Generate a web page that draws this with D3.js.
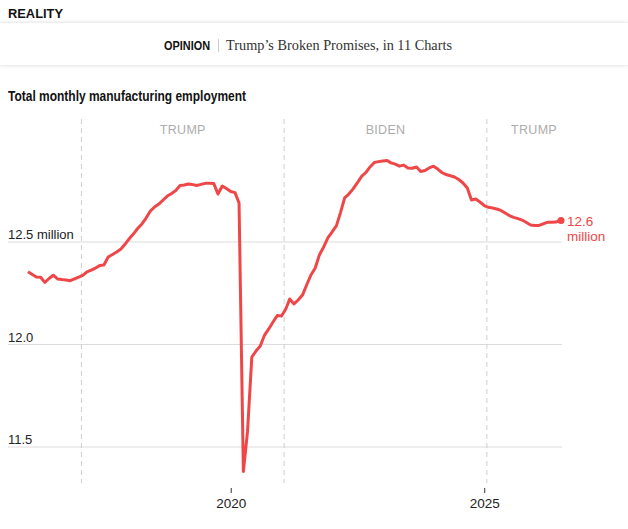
<!DOCTYPE html>
<html>
<head>
<meta charset="utf-8">
<script src="https://cdn.jsdelivr.net/npm/d3@7"></script>
<style>
  body { margin: 0; background: #fff; width: 628px; height: 529px; overflow: hidden; position: relative; }
  #band { position: absolute; left: 0; top: 23px; width: 628px; height: 42px; background: #fff;
          box-shadow: 0 0 4px rgba(0,0,0,0.18); }
  svg { position: absolute; left: 0; top: 0; }
</style>
</head>
<body>
<div id="band"></div>
<svg id="chart" width="628" height="529"></svg>
<script>
// monthly manufacturing employment, millions, Jan 2016 onward
var y2016 = [12.355, 12.341, 12.329, 12.328, 12.303, 12.322, 12.338, 12.320, 12.317, 12.315, 12.311, 12.320];
var y2017 = [12.329, 12.338, 12.354, 12.363, 12.373, 12.385, 12.388, 12.427, 12.439, 12.451, 12.466, 12.490];
var y2018 = [12.517, 12.541, 12.566, 12.588, 12.617, 12.651, 12.671, 12.685, 12.705, 12.724, 12.737, 12.751];
var y2019 = [12.776, 12.778, 12.783, 12.780, 12.776, 12.781, 12.786, 12.786, 12.785, 12.734, 12.773, 12.761];
var y2020 = [12.746, 12.741, 12.690, 11.380, 11.575, 11.939, 11.968, 11.993, 12.046, 12.076, 12.110, 12.141];
var y2021 = [12.139, 12.173, 12.222, 12.198, 12.217, 12.241, 12.290, 12.339, 12.373, 12.437, 12.476, 12.520];
var y2022 = [12.549, 12.580, 12.641, 12.715, 12.734, 12.759, 12.788, 12.820, 12.839, 12.866, 12.888, 12.892];
var y2023 = [12.895, 12.898, 12.886, 12.880, 12.870, 12.875, 12.861, 12.860, 12.866, 12.844, 12.849, 12.861];
var y2024 = [12.870, 12.856, 12.839, 12.829, 12.823, 12.817, 12.805, 12.788, 12.763, 12.705, 12.710, 12.695];
var y2025 = [12.678, 12.669, 12.666, 12.661, 12.654, 12.641, 12.629, 12.620, 12.614, 12.607, 12.595, 12.583];
var y2026 = [12.580, 12.581, 12.588, 12.596, 12.596, 12.597, 12.605];

var yearRows = [y2016, y2017, y2018, y2019, y2020, y2021, y2022, y2023, y2024, y2025, y2026];
var firstYear = 2016;

var yTicks = [12.5, 12.0, 11.5];
var yTickLabels = ["12.5 million", "12.0", "11.5"];
var xTicks = [2020, 2025];
var termStarts = ["2017-01-20", "2021-01-20", "2025-01-20"];
var termLabels = ["TRUMP", "BIDEN", "TRUMP"];
var endLabel = ["12.6", "million"];

var red = "#ef4748";
var sans = "Liberation Sans, Arial, sans-serif";

var data = [];
yearRows.forEach(function(row, yi) {
  row.forEach(function(v, m) {
    data.push({date: new Date(firstYear + yi, m, 1), value: v});
  });
});

var svg = d3.select("#chart");

// header texts
svg.append("text")
  .attr("x", 8).attr("y", 18)
  .attr("font-family", sans).attr("font-size", 13.5).attr("font-weight", "bold")
  .attr("fill", "#121212")
  .attr("textLength", 55).attr("lengthAdjust", "spacingAndGlyphs")
  .text("REALITY");
svg.append("text")
  .attr("x", 164).attr("y", 50)
  .attr("font-family", sans).attr("font-size", 13.5).attr("font-weight", "bold")
  .attr("fill", "#121212")
  .attr("textLength", 46).attr("lengthAdjust", "spacingAndGlyphs")
  .text("OPINION");
svg.append("line")
  .attr("x1", 218.5).attr("x2", 218.5).attr("y1", 39).attr("y2", 52)
  .attr("stroke", "#ccc");
svg.append("text")
  .attr("x", 226).attr("y", 50)
  .attr("font-family", "Liberation Serif, DejaVu Serif, serif").attr("font-size", 15)
  .attr("fill", "#333")
  .attr("textLength", 226).attr("lengthAdjust", "spacingAndGlyphs")
  .text("Trump’s Broken Promises, in 11 Charts");

// chart title
svg.append("text")
  .attr("x", 8).attr("y", 101)
  .attr("font-family", sans).attr("font-size", 14).attr("font-weight", "bold")
  .attr("fill", "#121212")
  .attr("textLength", 238).attr("lengthAdjust", "spacingAndGlyphs")
  .text("Total monthly manufacturing employment");

var x = d3.scaleTime()
  .domain([new Date(2016, 0, 1), new Date(2026, 6, 1)])
  .range([28, 560]);
var y = d3.scaleLinear()
  .domain([11.5, 12.5])
  .range([447, 242]);

var terms = termStarts.map(function(d) { return d3.timeParse("%Y-%m-%d")(d); });

// gridlines
svg.selectAll("line.grid").data(yTicks).enter().append("line")
  .attr("class", "grid")
  .attr("x1", 8).attr("x2", 562)
  .attr("y1", function(d) { return y(d); })
  .attr("y2", function(d) { return y(d); })
  .attr("stroke", "#dcdcdc").attr("stroke-width", 1);

svg.selectAll("text.ylab").data(yTicks).enter().append("text")
  .attr("class", "ylab")
  .attr("x", 8)
  .attr("y", function(d) { return y(d) - 3; })
  .attr("font-family", sans)
  .attr("font-size", 13)
  .attr("fill", "#222")
  .text(function(d, i) { return yTickLabels[i]; });

// term dividers
svg.selectAll("line.term").data(terms).enter().append("line")
  .attr("class", "term")
  .attr("x1", function(d) { return x(d); })
  .attr("x2", function(d) { return x(d); })
  .attr("y1", 119).attr("y2", 483)
  .attr("stroke", "#cfcfcf")
  .attr("stroke-dasharray", "5,4");

var termEnds = terms.slice(1).concat([new Date(2026, 11, 1)]);
svg.selectAll("text.term").data(terms).enter().append("text")
  .attr("class", "term")
  .attr("x", function(d, i) { return (x(d) + Math.min(x(termEnds[i]), 600)) / 2; })
  .attr("y", 134)
  .attr("text-anchor", "middle")
  .attr("font-family", sans)
  .attr("font-size", 12.5)
  .attr("letter-spacing", 0.3)
  .attr("fill", "#acacac")
  .text(function(d, i) { return termLabels[i]; });

// x axis
var xAxis = d3.axisBottom(x)
  .tickValues(xTicks.map(function(d) { return new Date(d, 0, 1); }))
  .tickSize(5)
  .tickFormat(d3.timeFormat("%Y"));
var gx = svg.append("g")
  .attr("transform", "translate(0,488)")
  .call(xAxis);
gx.select(".domain").remove();
gx.selectAll(".tick line").attr("stroke", "#333");
gx.selectAll(".tick text")
  .attr("font-family", sans)
  .attr("font-size", 13.5)
  .attr("fill", "#222")
  .attr("dy", "0.71em")
  .attr("y", 10);

// the line
var line = d3.line()
  .x(function(d) { return x(d.date); })
  .y(function(d) { return y(d.value); });

svg.append("path")
  .datum(data)
  .attr("fill", "none")
  .attr("stroke", red)
  .attr("stroke-width", 3)
  .attr("stroke-linejoin", "round")
  .attr("d", line);

var last = data[data.length - 1];
svg.append("circle")
  .attr("cx", x(last.date) + 1)
  .attr("cy", y(last.value))
  .attr("r", 3.5)
  .attr("fill", red);

svg.selectAll("text.endlab").data(endLabel).enter().append("text")
  .attr("class", "endlab")
  .attr("x", x(last.date) + 7)
  .attr("y", function(d, i) { return y(last.value) + 6 + i * 15; })
  .attr("font-family", sans)
  .attr("font-size", 13.5)
  .attr("fill", red)
  .text(function(d) { return d; });
</script>
</body>
</html>
